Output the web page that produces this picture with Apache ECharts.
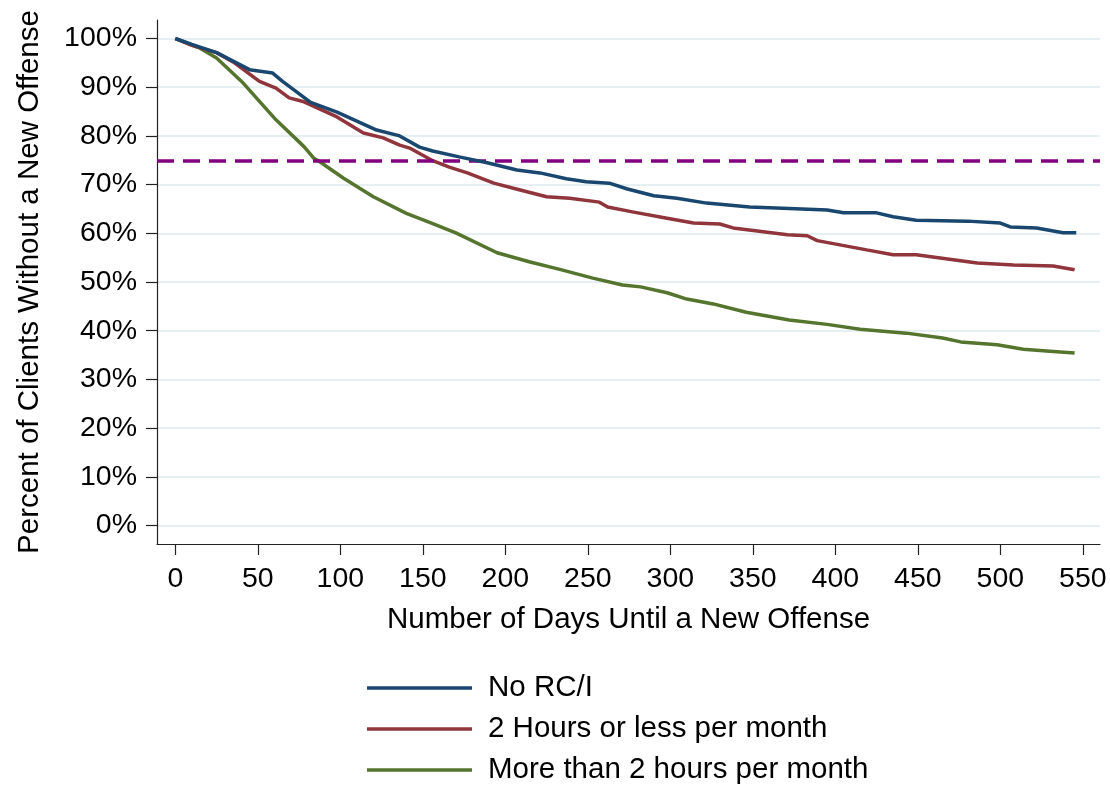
<!DOCTYPE html>
<html>
<head>
<meta charset="utf-8">
<script src="https://cdn.jsdelivr.net/npm/echarts@6/dist/echarts.min.js"></script>
<style>
html,body{margin:0;padding:0;background:#fff;}
#chart{width:1110px;height:786px;}
</style>
</head>
<body>
<div id="chart"></div>
<script>
// ---- data ----
const seriesNames = ["No RC/I", "2 Hours or less per month", "More than 2 hours per month"];
const xTicks = [0, 50, 100, 150, 200, 250, 300, 350, 400, 450, 500, 550];
const yTicks = [0, 10, 20, 30, 40, 50, 60, 70, 80, 90, 100];
const referenceLevel = 75;

const noRCIDays = [0, 10, 25, 45, 59, 65, 82, 98, 122, 136, 148, 156, 172, 189, 207, 221, 237, 249, 263, 274, 290, 304, 322, 348, 372, 395, 405, 425, 435, 449, 480, 500, 506, 522, 538, 546];
const noRCIPct  = [100, 98.8, 97.1, 93.6, 92.9, 91.2, 86.9, 84.9, 81.2, 80.0, 77.7, 76.9, 75.7, 74.5, 73.0, 72.4, 71.2, 70.6, 70.3, 69.1, 67.7, 67.2, 66.2, 65.4, 65.1, 64.8, 64.2, 64.2, 63.4, 62.7, 62.5, 62.1, 61.3, 61.1, 60.1, 60.1];

const lessDays = [0, 10, 25, 35, 51, 61, 69, 78, 98, 114, 126, 136, 142, 156, 166, 177, 193, 209, 225, 239, 257, 262, 277, 298, 314, 330, 338, 371, 383, 389, 419, 435, 449, 486, 508, 532, 545];
const lessPct  = [100, 98.6, 97.1, 95.2, 91.2, 89.8, 87.8, 87.0, 83.9, 80.6, 79.6, 78.1, 77.5, 74.9, 73.6, 72.4, 70.3, 68.9, 67.5, 67.2, 66.4, 65.4, 64.4, 63.1, 62.1, 61.9, 61.1, 59.7, 59.5, 58.5, 56.6, 55.6, 55.6, 53.9, 53.5, 53.3, 52.5];

const moreDays = [0, 15, 25, 41, 61, 78, 84, 88, 102, 120, 140, 156, 170, 195, 215, 233, 253, 271, 282, 298, 310, 326, 346, 372, 395, 415, 443, 465, 476, 498, 514, 530, 545];
const morePct  = [100, 98.0, 96.0, 90.9, 83.3, 77.8, 75.4, 74.6, 71.3, 67.5, 64.1, 62.0, 60.1, 56.0, 54.1, 52.6, 50.8, 49.4, 49.0, 47.8, 46.5, 45.5, 43.8, 42.2, 41.3, 40.3, 39.5, 38.5, 37.7, 37.1, 36.2, 35.8, 35.4];

const colors = ["#1a476f", "#90353b", "#55752f"];
const FONT = "'Liberation Sans', Arial, sans-serif";

function pairs(xs, ys) { return xs.map((x, i) => [x, ys[i]]); }

const chart = echarts.init(document.getElementById('chart'), null, {renderer: 'canvas'});
const lineSeries = [pairs(noRCIDays, noRCIPct), pairs(lessDays, lessPct), pairs(moreDays, morePct)].map((d, i) => ({
  name: seriesNames[i],
  type: 'line',
  data: d,
  showSymbol: false,
  symbol: 'none',
  smooth: false,
  lineStyle: {color: colors[i], width: 3.5},
  itemStyle: {color: colors[i]},
  z: 5 - i,
  animation: false
}));
lineSeries[0].markLine = {
  silent: true,
  symbol: ['none', 'none'],
  label: {show: false},
  lineStyle: {color: '#800080', width: 3.5, type: [17, 9]},
  data: [{yAxis: referenceLevel}],
  animation: false
};

chart.setOption({
  animation: false,
  backgroundColor: '#fff',
  grid: {left: 157, right: 10, top: 20, bottom: 242, containLabel: false},
  xAxis: {
    type: 'value', min: -11.1, max: 560.4,
    name: 'Number of Days Until a New Offense',
    nameLocation: 'middle', nameGap: 61,
    nameTextStyle: {fontFamily: FONT, fontSize: 29.5, color: '#000'},
    axisLine: {show: true, onZero: false, lineStyle: {color: '#222', width: 1.2}},
    axisTick: {show: true, length: 11, inside: false, lineStyle: {color: '#222', width: 1.2}, customValues: xTicks},
    axisLabel: {fontFamily: FONT, fontSize: 28.5, color: '#000', margin: 21, customValues: xTicks},
    splitLine: {show: false}
  },
  yAxis: {
    type: 'value', min: -3.8, max: 103.8,
    name: 'Percent of Clients Without a New Offense',
    nameLocation: 'middle', nameGap: 112,
    nameTextStyle: {fontFamily: FONT, fontSize: 29.5, color: '#000'},
    axisLine: {show: true, onZero: false, lineStyle: {color: '#222', width: 1.2}},
    axisTick: {show: true, length: 11, inside: false, lineStyle: {color: '#222', width: 1.2}, customValues: yTicks},
    axisLabel: {fontFamily: FONT, fontSize: 28.5, color: '#000', margin: 20, customValues: yTicks, formatter: v => v + '%'},
    splitLine: {show: true, lineStyle: {color: '#e6eff1', width: 2}}
  },
  legend: {
    orient: 'vertical', left: 367, top: 673, padding: 0,
    itemWidth: 105, itemHeight: 3.5, itemGap: 11, icon: 'rect',
    textStyle: {fontFamily: FONT, fontSize: 29.5, color: '#000', lineHeight: 30, padding: [0, 0, 0, 11]},
    data: seriesNames.map((n, i) => ({name: n, itemStyle: {color: colors[i]}}))
  },
  series: lineSeries
});
</script>
</body>
</html>
